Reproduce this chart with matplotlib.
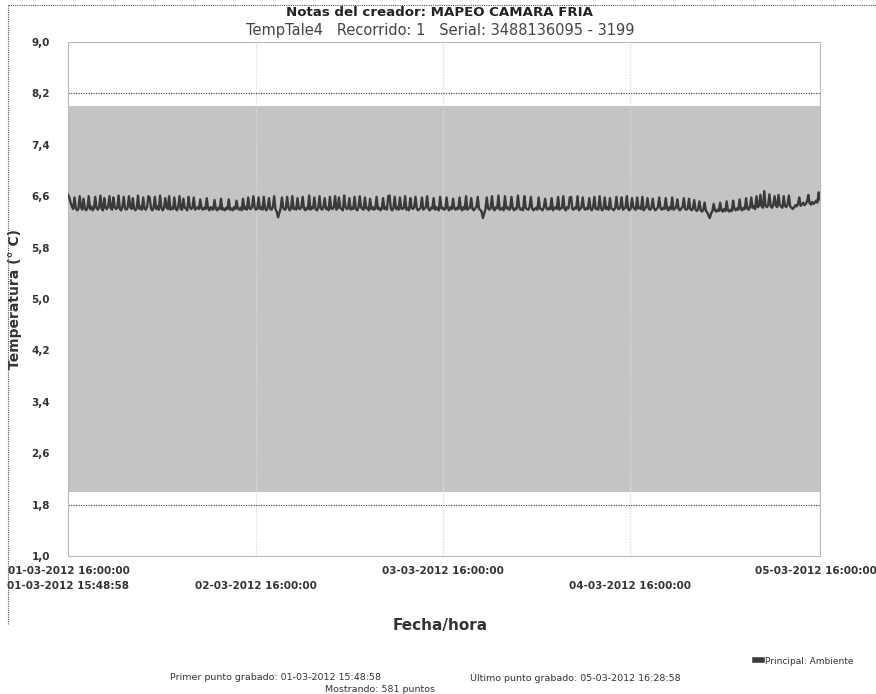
import matplotlib
matplotlib.use("Agg")
import matplotlib.pyplot as plt
from matplotlib.lines import Line2D
import numpy as np
import pandas as pd

# ---------------- data ----------------
start_time = "2012-03-01 15:48:58"
interval = "10min"
temps = [
    6.62,6.58,6.50,6.44,6.40,6.58,6.42,6.38,6.40,6.60,6.43,6.39,6.56,6.41,6.38,6.42,6.60,6.40,6.44,6.38,
    6.41,6.59,6.42,6.39,6.43,6.61,6.40,6.38,6.57,6.42,6.40,6.44,6.60,6.41,6.39,6.58,6.43,6.40,6.42,6.61,
    6.40,6.38,6.44,6.59,6.41,6.39,6.42,6.60,6.43,6.40,6.57,6.41,6.38,6.42,6.61,6.40,6.44,6.39,6.58,6.41,
    6.39,6.43,6.60,6.58,6.41,6.38,6.42,6.59,6.40,6.44,6.39,6.61,6.42,6.38,6.41,6.57,6.43,6.40,6.60,6.39,
    6.42,6.40,6.58,6.41,6.38,6.43,6.60,6.40,6.39,6.56,6.42,6.41,6.38,6.59,6.43,6.40,6.42,6.58,6.39,6.41,
    6.43,6.40,6.55,6.41,6.39,6.42,6.40,6.57,6.41,6.38,6.43,6.40,6.39,6.54,6.41,6.38,6.42,6.40,6.56,6.39,
    6.41,6.38,6.42,6.40,6.55,6.39,6.41,6.38,6.43,6.40,6.53,6.41,6.39,6.42,6.38,6.56,6.40,6.43,6.39,6.58,
    6.41,6.40,6.44,6.60,6.42,6.39,6.41,6.58,6.40,6.43,6.39,6.59,6.41,6.38,6.42,6.57,6.40,6.39,6.43,6.60,
    6.40,6.36,6.27,6.34,6.41,6.58,6.42,6.39,6.40,6.59,6.43,6.38,6.41,6.60,6.40,6.42,6.39,6.57,6.41,6.40,
    6.43,6.59,6.41,6.38,6.42,6.40,6.61,6.39,6.43,6.41,6.58,6.40,6.38,6.42,6.60,6.41,6.39,6.43,6.57,6.40,
    6.42,6.38,6.59,6.41,6.40,6.43,6.60,6.39,6.41,6.58,6.42,6.40,6.38,6.61,6.43,6.40,6.41,6.57,6.39,6.42,
    6.40,6.59,6.41,6.38,6.42,6.60,6.43,6.40,6.39,6.58,6.41,6.42,6.38,6.56,6.40,6.43,6.39,6.41,6.59,6.40,
    6.42,6.38,6.41,6.57,6.40,6.43,6.39,6.60,6.61,6.41,6.38,6.42,6.59,6.40,6.43,6.39,6.58,6.41,6.40,6.42,
    6.60,6.39,6.41,6.38,6.57,6.42,6.40,6.43,6.59,6.41,6.38,6.40,6.42,6.58,6.39,6.41,6.43,6.60,6.40,6.38,
    6.42,6.41,6.57,6.39,6.43,6.40,6.38,6.59,6.41,6.42,6.39,6.40,6.58,6.41,6.38,6.43,6.40,6.56,6.41,6.39,
    6.42,6.40,6.58,6.41,6.38,6.43,6.40,6.60,6.39,6.41,6.42,6.57,6.40,6.38,6.41,6.43,6.59,6.40,6.39,6.36,
    6.26,6.33,6.40,6.58,6.41,6.39,6.42,6.60,6.40,6.38,6.43,6.41,6.61,6.39,6.40,6.42,6.38,6.60,6.41,6.43,
    6.39,6.40,6.59,6.42,6.38,6.41,6.40,6.61,6.43,6.39,6.41,6.38,6.60,6.42,6.40,6.39,6.43,6.59,6.41,6.38,
    6.40,6.42,6.39,6.58,6.41,6.40,6.38,6.43,6.56,6.41,6.39,6.42,6.40,6.57,6.38,6.41,6.43,6.40,6.59,6.39,
    6.41,6.42,6.60,6.40,6.38,6.43,6.41,6.58,6.59,6.40,6.39,6.42,6.41,6.60,6.38,6.40,6.43,6.58,6.41,6.39,
    6.42,6.40,6.57,6.41,6.38,6.43,6.59,6.40,6.41,6.39,6.60,6.42,6.38,6.41,6.58,6.40,6.43,6.39,6.57,6.41,
    6.40,6.38,6.42,6.59,6.41,6.40,6.43,6.58,6.39,6.41,6.42,6.60,6.40,6.38,6.41,6.57,6.43,6.40,6.39,6.58,
    6.41,6.42,6.40,6.59,6.38,6.41,6.43,6.57,6.40,6.39,6.42,6.56,6.41,6.38,6.40,6.43,6.58,6.41,6.39,6.42,
    6.40,6.57,6.41,6.38,6.43,6.40,6.58,6.39,6.41,6.42,6.55,6.40,6.38,6.41,6.43,6.57,6.40,6.39,6.41,6.56,
    6.40,6.38,6.41,6.54,6.39,6.37,6.40,6.52,6.38,6.36,6.39,6.50,6.37,6.35,6.30,6.26,6.33,6.37,6.48,6.38,
    6.36,6.39,6.37,6.50,6.38,6.36,6.40,6.37,6.52,6.38,6.36,6.39,6.37,6.53,6.40,6.38,6.41,6.39,6.55,6.40,
    6.38,6.42,6.40,6.57,6.41,6.39,6.43,6.58,6.42,6.44,6.40,6.60,6.43,6.45,6.62,6.44,6.42,6.68,6.45,6.43,
    6.46,6.63,6.44,6.42,6.47,6.60,6.45,6.43,6.62,6.46,6.44,6.42,6.60,6.45,6.43,6.47,6.61,6.44,6.42,6.40,
    6.43,6.46,6.44,6.48,6.58,6.45,6.47,6.50,6.46,6.48,6.52,6.62,6.49,6.47,6.51,6.48,6.50,6.53,6.50,6.66,
    6.55,
]
band_low, band_high = 2.0, 8.0
alarm_low, alarm_high = 1.8, 8.2
y_ticks = [1.0, 1.8, 2.6, 3.4, 4.2, 5.0, 5.8, 6.6, 7.4, 8.2, 9.0]
x_tick_times = ["2012-03-01 16:00:00", "2012-03-02 16:00:00", "2012-03-03 16:00:00",
                "2012-03-04 16:00:00", "2012-03-05 16:00:00"]
x_tick_labels = ["01-03-2012 16:00:00", "02-03-2012 16:00:00", "03-03-2012 16:00:00",
                 "04-03-2012 16:00:00", "05-03-2012 16:00:00"]
series_name = "Principal: Ambiente"
title1 = "Notas del creador: MAPEO CAMARA FRIA"
title2 = "TempTale4   Recorrido: 1   Serial: 3488136095 - 3199"

times = pd.date_range(start_time, periods=len(temps), freq=interval)

# ---------------- figure ----------------
W, H = 876, 694
fig = plt.figure(figsize=(W / 100, H / 100), dpi=100)
L, R, T, B = 68, 820, 42, 556
ax = fig.add_axes([L / W, 1 - B / H, (R - L) / W, (B - T) / H])

FONT = "DejaVu Sans"
dark = "#333333"

ax.axhspan(band_low, band_high, color="#c4c4c4", zorder=0, lw=0)
ax.axhline(alarm_high, color="#555555", ls=(0, (1, 1)), lw=0.9, zorder=1)
ax.axhline(alarm_low, color="#555555", ls=(0, (1, 1)), lw=0.9, zorder=1)

tick_dt = pd.to_datetime(x_tick_times)
for t in tick_dt[1:4]:
    ax.axvline(t, color="#dcdcdc", lw=1.0, ls=(0, (1, 1)), zorder=0.5)

ax.plot(times, temps, color="#3a3a3a", lw=1.7, zorder=3, label=series_name)

ax.set_ylim(y_ticks[0], y_ticks[-1])
ax.set_xlim(times[0], times[-1])
ax.set_yticks(y_ticks)
ax.set_yticklabels([f"{v:.1f}".replace(".", ",") for v in y_ticks],
                   fontsize=7.5, fontweight="bold", color=dark, family=FONT)
ax.tick_params(axis="y", length=0, pad=13)

ax.set_xticks(tick_dt)
ax.set_xticklabels(x_tick_labels, fontsize=7.5, fontweight="bold", color=dark, family=FONT)
ax.tick_params(axis="x", which="both", length=0)
for i, tk in enumerate(ax.xaxis.get_major_ticks()):
    tk.set_pad(7 if i % 2 == 0 else 18)
ax.set_xticks([times[0]], minor=True)
ax.set_xticklabels([times[0].strftime("%d-%m-%Y %H:%M:%S")], minor=True,
                   fontsize=7.5, fontweight="bold", color=dark, family=FONT)
for tk in ax.xaxis.get_minor_ticks():
    tk.set_pad(18)

for s in ax.spines.values():
    s.set_color("#bbbbbb")
    s.set_linewidth(0.8)
    s.set_linestyle((0, (1, 1)))

ax.set_ylabel("Temperatura (° C)", fontsize=10, fontweight="bold", color=dark, family=FONT)
ax.yaxis.set_label_coords(-(L - 22) / (R - L), 0.5)
ax.set_xlabel("Fecha/hora", fontsize=11, fontweight="bold", color=dark, family=FONT)
ax.xaxis.set_label_coords(0.495, -(618 - B) / (B - T))

fig.text(440 / W, 1 - 12 / H, title1, ha="center", va="center",
         fontsize=9.6, fontweight="bold", color="#222222", family=FONT)
fig.text(440 / W, 1 - 30 / H, title2, ha="center", va="center",
         fontsize=10.5, color="#444444", family=FONT)

leg = fig.legend(loc="center right", bbox_to_anchor=(862 / W, 1 - 661 / H), frameon=False,
                 prop={"size": 6.5, "family": FONT}, handlelength=0.7, handletextpad=0.4)
for h in leg.legend_handles:
    h.set_linewidth(4)
for tx in leg.get_texts():
    tx.set_color(dark)

fig.text(170 / W, 1 - 678 / H, "Primer punto grabado: " + times[0].strftime("%d-%m-%Y %H:%M:%S"),
         ha="left", va="center", fontsize=6.8, color=dark, family=FONT)
fig.text(470 / W, 1 - 678 / H, "Último punto grabado: " + times[-1].strftime("%d-%m-%Y %H:%M:%S"),
         ha="left", va="center", fontsize=6.8, color=dark, family=FONT)
fig.text(380 / W, 1 - 690 / H, f"Mostrando: {len(temps)} puntos",
         ha="center", va="center", fontsize=6.8, color=dark, family=FONT)

# outer dotted frame
fig.add_artist(Line2D([8 / W, 8 / W], [1 - 5 / H, 1 - 625 / H], transform=fig.transFigure,
                      color="#555555", lw=0.8, ls=(0, (1, 1))))
fig.add_artist(Line2D([8 / W, 1.0], [1 - 5 / H, 1 - 5 / H], transform=fig.transFigure,
                      color="#555555", lw=0.8, ls=(0, (1, 1))))

fig.savefig("out.png", dpi=100)
